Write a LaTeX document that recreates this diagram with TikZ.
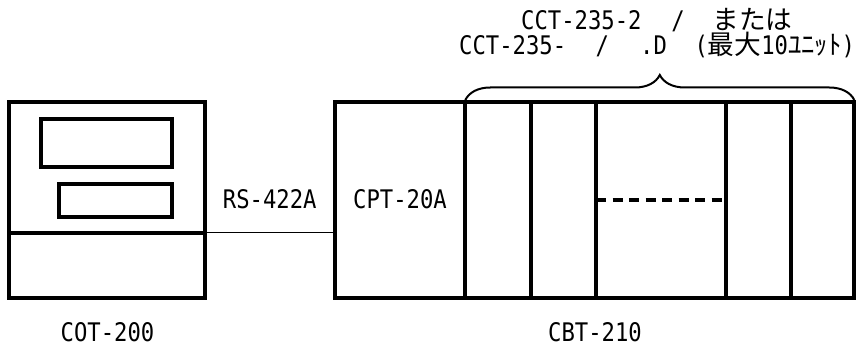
\documentclass[tikz,border=0pt]{standalone}
\usepackage{fontspec}
\setmainfont{DejaVu Sans Mono}[FakeStretch=0.868]
\newfontfamily\jp{Noto Sans CJK JP}[Scale=1.043]
\usetikzlibrary{decorations.pathreplacing}
\begin{document}
\begin{tikzpicture}[x=1pt,y=-1pt,
  unitbox/.style={draw, line width=4pt, inner sep=0pt, outer sep=0pt, fill=white},
  heavy/.style={line width=4pt},
  conn/.style={line width=1.3pt},
  dots/.style={line width=4.5pt, dash pattern=on 10pt off 6.5pt},
  bracepath/.style={line width=2pt, decorate, decoration={brace, amplitude=25pt}},
  lbl/.style={font=\fontsize{25.6}{30}\selectfont, inner sep=0pt, anchor=base}]
\useasboundingbox (0,0) rectangle (856,347);
% COT-200
\node[unitbox, minimum width=195.4pt, minimum height=195.3pt] (cot) at (107,200.15) {};
\node[unitbox, minimum width=130.7pt, minimum height=48pt] (disp1) at (106.65,143.3) {};
\node[unitbox, minimum width=113.3pt, minimum height=32.4pt] (disp2) at (115.35,200.5) {};
\draw[heavy] (cot.west |- 0,232.7) -- (cot.east |- 0,232.7);
% CBT-210
\node[unitbox, minimum width=519pt, minimum height=195.3pt] (cbt) at (594.8,200.15) {};
\foreach \x in {465.3,530.7,596,726,791.3}
  \draw[heavy] (\x,0 |- cbt.north) -- (\x,0 |- cbt.south);
\draw[dots] (596,200) -- (726,200);
% connector
\draw[conn] (cot.east |- 0,232.7) -- (cbt.west |- 0,232.7);
% brace
\draw[bracepath] (465.3,100) -- (854.3,100);
% labels
\node[lbl] (rs) at (269.7,208.3) {RS-422A};
\node[lbl] (cpt) at (400,208.3) {CPT-20A};
\node[lbl] (cotl) at (107.5,341.7) {COT-200};
\node[lbl] (cbtl) at (595,341.7) {CBT-210};
\node[lbl, anchor=base west] (l1) at (521,30) {CCT-235-2\hspace{29.9pt}/\hspace{27.6pt}{\jp または}};
\node[lbl, anchor=base west] (l2) at (459,55) {CCT-235-\hspace{29.3pt}/\hspace{31.3pt}.D\hspace{27.6pt}({\jp 最大}10{\jp ﾕﾆｯﾄ})};
\end{tikzpicture}
\end{document}
